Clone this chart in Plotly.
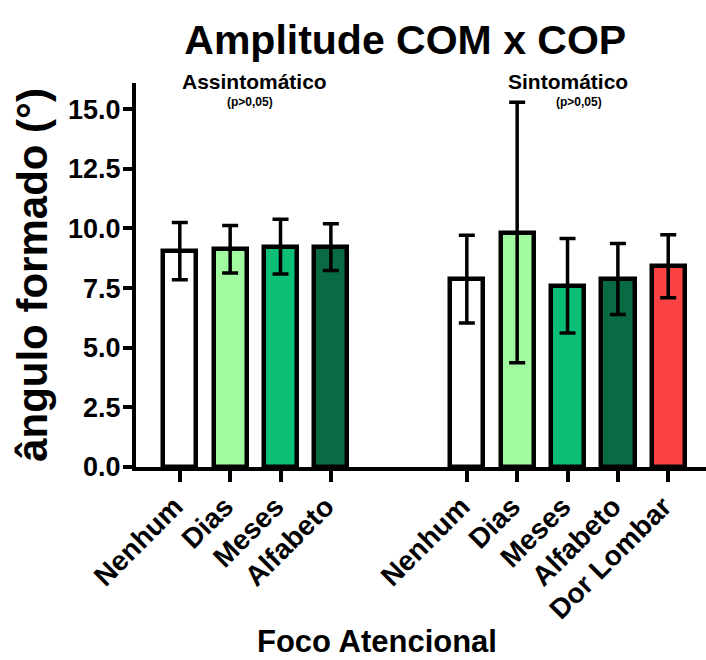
import plotly.graph_objects as go

# Foco atencional categories for each group
cats_assint = ["Nenhum", "Dias", "Meses", "Alfabeto"]
cats_sint = ["Nenhum", "Dias", "Meses", "Alfabeto", "Dor Lombar"]

# Mean angle (degrees) and standard deviation
mean_assint = [9.05, 9.13, 9.24, 9.22]
sd_assint = [1.20, 1.00, 1.15, 0.98]
mean_sint = [7.88, 9.83, 7.60, 7.88, 8.42]
sd_sint = [1.84, 5.46, 1.98, 1.49, 1.32]

# Bar fills per category
colors_assint = ["#FFFFFF", "#A2FAA0", "#0CBF77", "#086B43"]
colors_sint = ["#FFFFFF", "#A2FAA0", "#0CBF77", "#086B43", "#FC4242"]

y_ticks = [0.0, 2.5, 5.0, 7.5, 10.0, 12.5, 15.0]

FONT = "Liberation Sans, Arial, sans-serif"
GROUP_GAP = 5.7  # offset of the second group along x

x_assint = list(range(len(cats_assint)))
x_sint = [GROUP_GAP + i for i in range(len(cats_sint))]

fig = go.Figure()

for xs, ms, sds, cols in [
    (x_assint, mean_assint, sd_assint, colors_assint),
    (x_sint, mean_sint, sd_sint, colors_sint),
]:
    fig.add_trace(go.Bar(
        x=xs, y=ms, width=0.66,
        marker=dict(color=cols, line=dict(color="black", width=4.5)),
        error_y=dict(type="data", array=sds, visible=True,
                     color="black", thickness=3.5, width=8),
        showlegend=False,
    ))

fig.update_layout(
    width=706, height=660,
    margin=dict(l=136, r=0, t=83, b=193),
    paper_bgcolor="white", plot_bgcolor="white",
    font=dict(family=FONT, color="black"),
    title=dict(text="<b>Amplitude COM x COP</b>", x=0.574, xanchor="center",
               y=0.94, yanchor="middle", font=dict(size=41, family=FONT)),
    bargap=0,
)

fig.update_xaxes(
    range=[-0.87, 10.45],
    tickmode="array",
    tickvals=x_assint + x_sint,
    ticktext=[f"<b>{c}</b>" for c in cats_assint + cats_sint],
    tickangle=-45,
    tickfont=dict(size=28, family=FONT),
    ticklabelshift=-5,
    ticklabelstandoff=-3,
    ticks="outside", ticklen=11, tickwidth=3.5, tickcolor="black",
    showline=True, linecolor="black", linewidth=4,
    showgrid=False, zeroline=False,
)

fig.update_yaxes(
    range=[0, 16.1],
    tickmode="array",
    tickvals=y_ticks,
    ticktext=[f"<b>{v:.1f}</b>" for v in y_ticks],
    tickfont=dict(size=27, family=FONT),
    ticklabelstandoff=-3,
    ticks="outside", ticklen=9, tickwidth=3.5, tickcolor="black",
    showline=True, linecolor="black", linewidth=4,
    showgrid=False, zeroline=False,
    title=dict(text="<b>ângulo formado (°)</b>", font=dict(size=42, family=FONT),
               standoff=8),
)

# X axis title, placed under the tick labels
fig.add_annotation(x=(377 - 136) / (706 - 136), xref="paper",
                   y=0, yref="paper", yshift=-174,
                   xanchor="center", yanchor="middle", showarrow=False,
                   text="<b>Foco Atencional</b>",
                   font=dict(size=31, family=FONT))

# Group labels with significance notes
for xc, label in [(1.48, "Assintomático"), (7.7, "Sintomático")]:
    fig.add_annotation(x=xc, xref="x", y=1.0, yref="paper", yshift=2,
                       yanchor="middle", text=f"<b>{label}</b>",
                       showarrow=False, font=dict(size=21, family=FONT))

for xc in [1.39, 7.92]:
    fig.add_annotation(x=xc, xref="x", y=1.0, yref="paper", yshift=-19,
                       yanchor="middle", text="<b>(p>0,05)</b>", showarrow=False,
                       font=dict(size=12, family=FONT))

fig.write_html("out.html")
